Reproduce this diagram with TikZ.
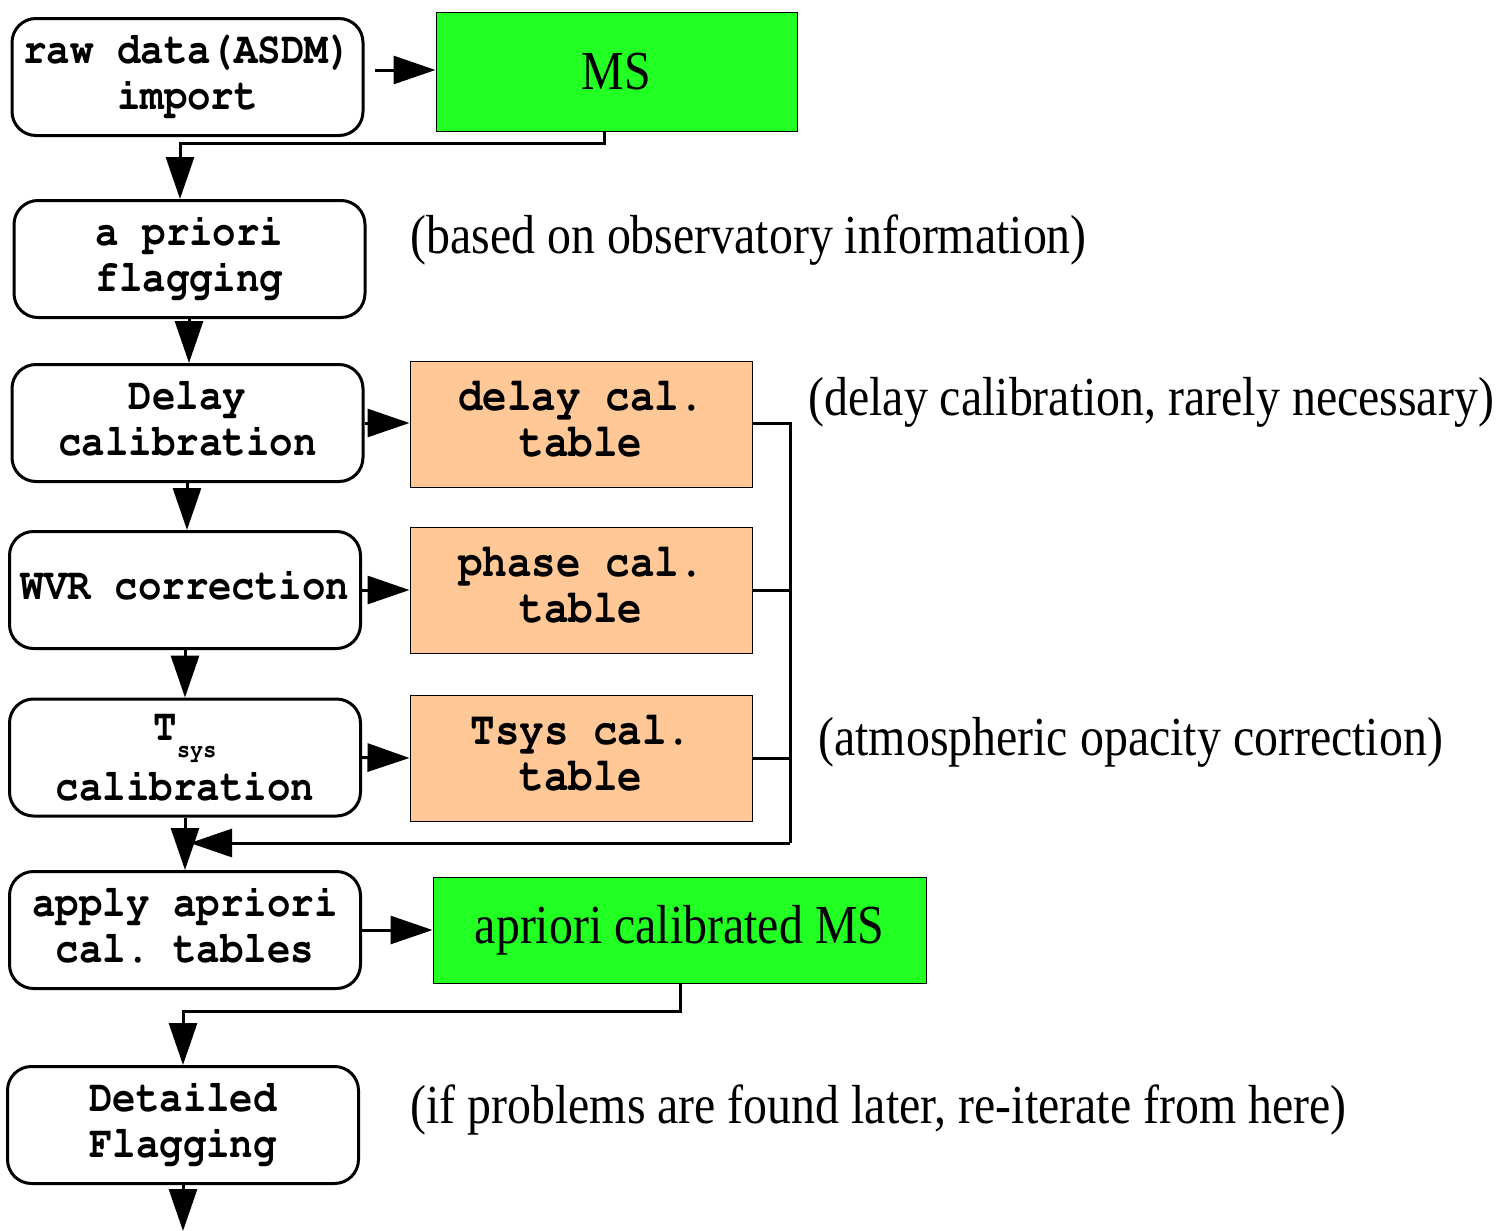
\documentclass[tikz,border=0pt]{standalone}
\usepackage[T1]{fontenc}
\usepackage{fontspec}
\usepackage{graphicx}
\usetikzlibrary{arrows.meta}
\setmainfont{Liberation Serif}
\newfontfamily\serifc[FakeStretch=0.87]{Liberation Serif}
\newcommand\cour{\fontencoding{T1}\fontfamily{pcr}\fontseries{b}\fontshape{n}\selectfont}
\newcommand\boxtxt[2][22.5]{\scalebox{0.87}[1]{\cour\fontsize{#1}{23}\selectfont\frenchspacing\begin{tabular}{@{}c@{}}#2\end{tabular}}}
\newcommand\serifbig{\serifc\fontsize{27.5}{30}\selectfont}
\definecolor{msgreen}{HTML}{22FF22}
\definecolor{taborange}{HTML}{FFC896}
\begin{document}
\begin{tikzpicture}[x=0.5pt,y=-0.5pt,
  stepbox/.style={draw, line width=1.5pt, rounded corners=12pt, minimum width=175.5pt, minimum height=58.5pt, align=center, inner sep=0pt},
  greenbox/.style={draw, line width=0.5pt, fill=msgreen, font=\serifbig, inner sep=0pt},
  tabbox/.style={draw, line width=0.5pt, fill=taborange, minimum width=171pt, minimum height=63pt, align=center, inner sep=0pt},
  arr/.style={line width=1.5pt, -{Triangle[length=21pt,width=14pt]}},
  wire/.style={line width=1.5pt},
  note/.style={font=\serifbig, anchor=west, inner sep=0pt}]
\useasboundingbox (0,0) rectangle (1500,1231);
% left column
\node[stepbox] (raw) at (187.5,77) {\boxtxt{raw data(ASDM)\\import}};
\node[stepbox] (apriori) at (189.5,259) {\boxtxt{a priori\\flagging}};
\node[stepbox] (delay) at (187.5,423) {\boxtxt{Delay\\calibration}};
\node[stepbox] (wvr) at (185,590) {\boxtxt{WVR correction}};
\node[stepbox] (tsys) at (185,757.5) {\boxtxt{\rule{0pt}{20pt}T\raisebox{-8.5pt}{\fontsize{12.5}{12}\selectfont sys}\\[7pt]calibration}};
\node[stepbox] (apply) at (185,930) {\boxtxt{apply apriori\\cal. tables}};
\node[stepbox] (detail) at (183,1125) {\boxtxt{Detailed\\Flagging}};
% right boxes
\node[greenbox, minimum width=180.5pt, minimum height=59.5pt] (ms) at (616.5,71.5) {MS};
\node[tabbox] (delaytab) at (581,424) {\boxtxt[23.5]{delay cal.\\table}};
\node[tabbox] (phasetab) at (581,590) {\boxtxt[23.5]{phase cal.\\table}};
\node[tabbox] (tsystab) at (581,758) {\boxtxt[23.5]{Tsys cal.\\table}};
\node[greenbox, minimum width=246.5pt, minimum height=53pt] (calms) at (679.5,930) {apriori calibrated MS};
% notes
\node[note] (n1) at (410,240) {(based on observatory information)};
\node[note] (n2) at (808,402) {(delay calibration, rarely necessary)};
\node[note] (n3) at (818,742) {(atmospheric opacity correction)};
\node[note] (n4) at (410,1110) {(if problems are found later, re-iterate from here)};
% coordinates
\coordinate (busend) at (190,843);
\coordinate (out) at (183,1231);
% connectors
\draw[arr] (raw.east |- 0,70) ++(5pt,0) -- (ms.west |- 0,70);
\draw[arr] (ms.south -| 604,0) |- (180,143) -- (apriori.north -| 180,0);
\draw[arr] (apriori.south -| 189,0) -- (delay.north -| 189,0);
\draw[arr] (delay.east |- 0,423) -- (delaytab.west |- 0,423);
\draw[arr] (delay.south -| 187,0) -- (wvr.north -| 187,0);
\draw[arr] (wvr.east) -- (phasetab.west);
\draw[arr] (wvr.south -| 185,0) -- (tsys.north -| 185,0);
\draw[arr] (tsys.east) -- (tsystab.west);
\draw[arr] (tsys.south -| 185,0) -- (apply.north -| 185,0);
\draw[wire] (delaytab.east |- 0,423) -- (790,423) -- (790,843);
\draw[wire] (phasetab.east) -- (790,590);
\draw[wire] (tsystab.east) -- (790,758);
\draw[arr] (790,843) -- (busend);
\draw[arr] (apply.east) -- (calms.west);
\draw[arr] (calms.south -| 680,0) |- (183,1011) -- (detail.north -| 183,0);
\draw[arr] (detail.south -| 183,0) -- (out);
\end{tikzpicture}
\end{document}
